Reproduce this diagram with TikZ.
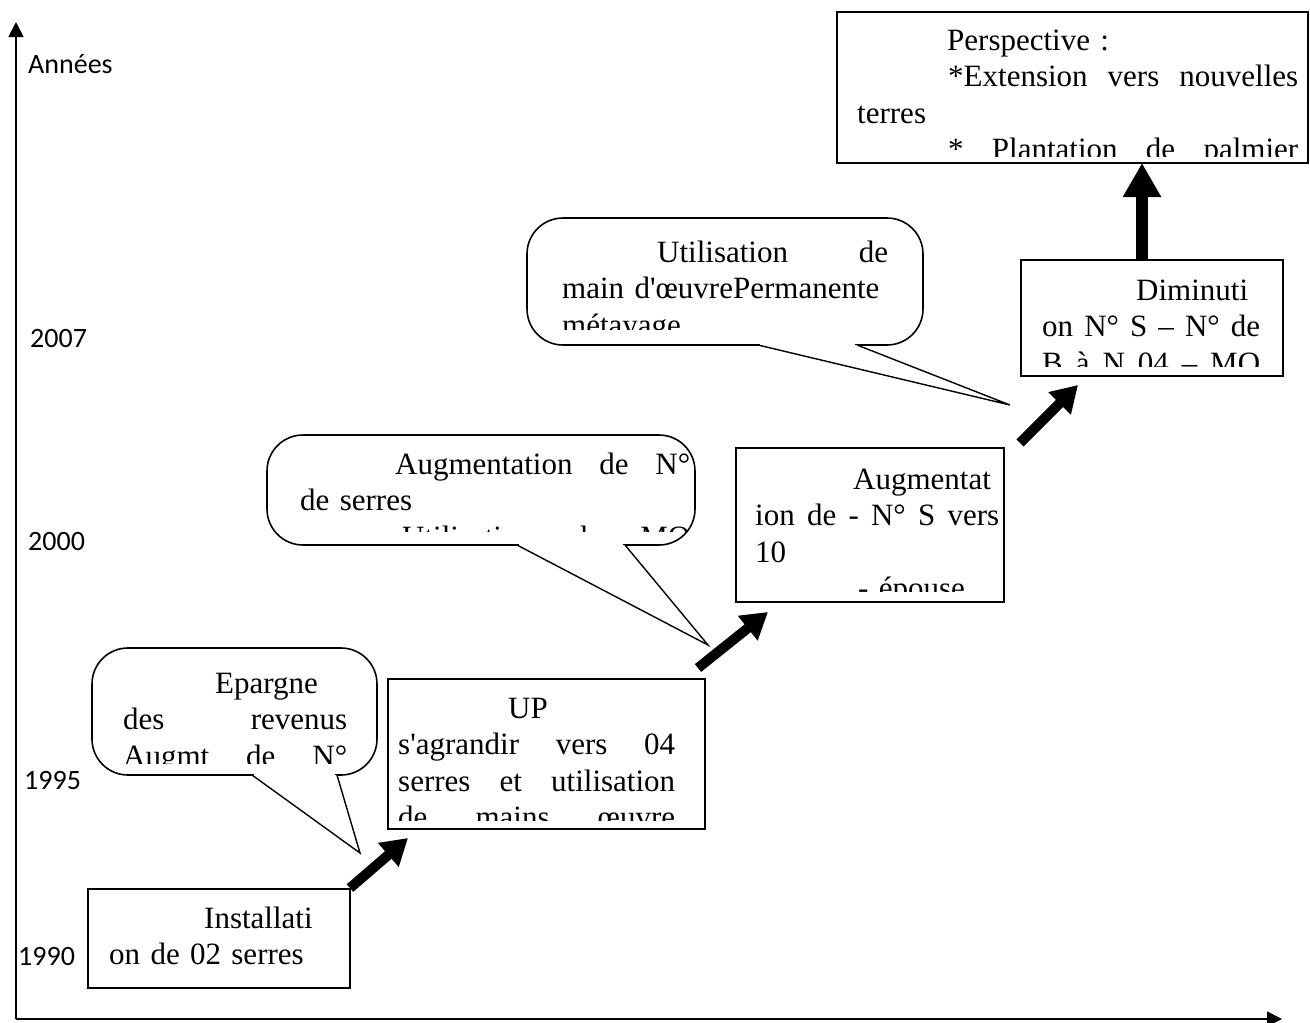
\documentclass[tikz,border=0pt]{standalone}
\usepackage{fontspec}
\setmainfont{Liberation Serif}
\newfontfamily\calibri{Carlito}
\usetikzlibrary{arrows.meta,calc}
\tikzset{
  etape/.style={draw, line width=1.6pt, inner sep=0pt, outer sep=0pt, anchor=north west},
  bulle/.style={draw, line width=1.6pt, rounded corners=36pt, fill=white},
  queue/.style={draw, line width=1.4pt, fill=white},
  txt/.style={inner sep=0pt, anchor=base west, align=left, font=\fontsize{31}{36.5}\selectfont},
  annee/.style={inner sep=0pt, anchor=base west, font=\calibri\fontsize{28}{32}\selectfont},
  axe/.style={line width=1.8pt, -{Triangle[length=15pt,width=15pt]}},
  fleche/.style={line width=10pt, -{Triangle[length=26pt,width=30pt]}},
  grossefleche/.style={line width=12pt, -{Triangle[length=34pt,width=36pt]}},
}

\begin{document}
\begin{tikzpicture}[x=1pt, y=-1pt]
\useasboundingbox (0,0) rectangle (1310,1023);

%% AXES
\coordinate (O) at (16,1019);
\coordinate (ytop) at (16,22);
\coordinate (xend) at (1282,1019);
\draw[axe] (O) -- (ytop);
\draw[axe] (O) -- (xend);

\node[annee] (annees) at (28,73) {Années};
\node[annee] (y2007) at (30,347) {2007};
\node[annee] (y2000) at (28,550) {2000};
\node[annee] (y1995) at (24,789) {1995};
\node[annee] (y1990) at (18,965) {1990};

%% CALLOUTS
% Epargne
\coordinate (b1tip) at (360,853);
\draw[bulle] (92,648) rectangle (377,775);
\draw[white, line width=3pt] (254,775) -- (335,775);
\draw[queue] (252,775) -- (b1tip) -- (337,775);
% Augmentation de N de serres
\coordinate (b2tip) at (708,645);
\draw[bulle] (267,435) rectangle (695,545);
\draw[white, line width=3pt] (519,545) -- (623,545);
\draw[queue] (517,545) -- (b2tip) -- (625,545);
% Utilisation de main d'oeuvre
\coordinate (b3tip) at (1010,405);
\draw[bulle] (527,218) rectangle (923,345);
\draw[white, line width=3pt] (760,345) -- (855,345);
\draw[queue] (758,345) -- (b3tip) -- (857,345);

\begin{scope}
  \clip (94,650) rectangle (375,763);
  \node[txt, text width=224pt] (t-epargne) at (123,693)
    {\hspace*{92pt}Epargne\\des\hfill revenus\\Augmt\hfill de\hfill N°};
\end{scope}
\begin{scope}
  \clip (269,437) rectangle (693,531);
  \node[txt, text width=390pt] (t-serres) at (300,474)
    {\hspace*{95pt}Augmentation\hfill de\hfill N°\\de serres\\
     \hspace*{102pt}Utilisation\hfill de\hfill MO};
\end{scope}
\begin{scope}
  \clip (529,220) rectangle (921,329);
  \node[txt, text width=326pt] (t-mo) at (562,262)
    {\hspace*{95pt}Utilisation\hfill de\\main d\textquotesingle œuvrePermanente\\métayage};
\end{scope}

%% BOXES
\node[etape, minimum width=262pt, minimum height=99pt] (inst) at (88,889) {};
\node[etape, minimum width=317pt, minimum height=150pt] (up) at (388,679) {};
\node[etape, minimum width=268pt, minimum height=154pt] (augm) at (736,448) {};
\node[etape, minimum width=262pt, minimum height=116pt] (dimi) at (1021,260) {};
\node[etape, minimum width=471pt, minimum height=151pt] (persp) at (837,12) {};

\node[txt, text width=230pt] (t-inst) at (109,928)
  {\hspace*{95pt}Installati\\on de 02 serres};
\begin{scope}
  \clip (390,681) rectangle (703,820);
  \node[txt, text width=277pt] (t-up) at (398,718)
    {\hspace*{110pt}UP\\s\textquotesingle agrandir\hfill vers\hfill 04\\
     serres\hfill et\hfill utilisation\\de\hfill mains\hfill œuvre};
\end{scope}
\begin{scope}
  \clip (738,450) rectangle (1002,591);
  \node[txt, text width=244pt] (t-augm) at (755,489)
    {\hspace*{98pt}Augmentat\\ion\hfill de\hfill -\hfill N°\hfill S\hfill vers\\10\\
     \hspace*{103pt}- épouse};
\end{scope}
\begin{scope}
  \clip (1023,262) rectangle (1281,366);
  \node[txt, text width=218pt] (t-dimi) at (1042,300)
    {\hspace*{94pt}Diminuti\\on\hfill N°\hfill S\hfill –\hfill N°\hfill de\\
     B\hfill à\hfill N\hfill 04\hfill –\hfill MO};
\end{scope}
\begin{scope}
  \clip (839,14) rectangle (1306,156);
  \node[txt, text width=441pt] (t-persp) at (857,50)
    {\hspace*{90pt}Perspective :\\\hspace*{91pt}*Extension\hfill vers\hfill nouvelles\\
     terres\\\hspace*{91pt}*\hfill Plantation\hfill de\hfill palmier};
\end{scope}

%% ARROWS
\coordinate (f1s) at (350,888);
\coordinate (f1e) at (408,838);
\coordinate (f2s) at (698,668);
\coordinate (f2e) at (768,612);
\coordinate (f3s) at (1020,443);
\coordinate (f3e) at (1078,385);
\coordinate (f4) at (1142,0);
\draw[fleche] (f1s) -- (f1e);
\draw[fleche] (f2s) -- (f2e);
\draw[fleche] (f3s) -- (f3e);
\draw[grossefleche] (dimi.north -| f4) -- (persp.south -| f4);

\end{tikzpicture}
\end{document}
